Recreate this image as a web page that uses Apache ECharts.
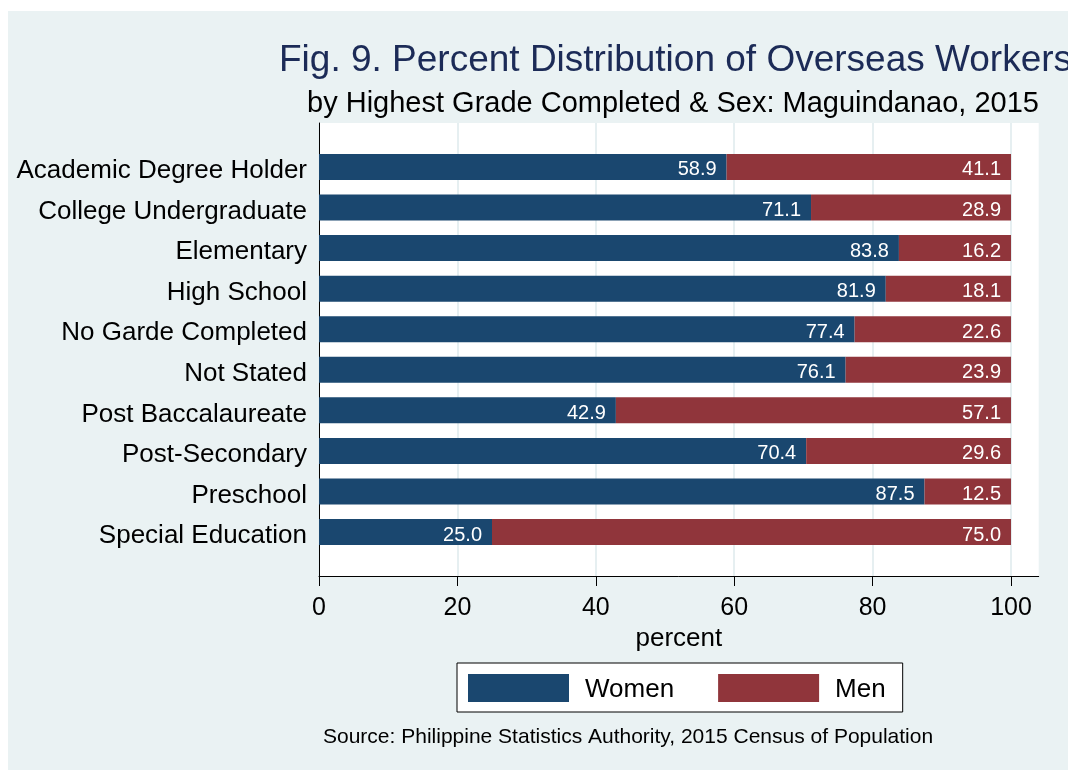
<!DOCTYPE html>
<html>
<head>
<meta charset="utf-8">
<script src="https://cdn.jsdelivr.net/npm/echarts@6/dist/echarts.min.js"></script>
<style>
  html, body { margin: 0; padding: 0; background: #fff; }
  #chart {
    position: absolute;
    left: 8px;
    top: 11px;
    width: 1060px;
    height: 759px;
  }
</style>
</head>
<body>
<div id="chart"></div>
<script>
// data
const categories = [
  'Academic Degree Holder',
  'College Undergraduate',
  'Elementary',
  'High School',
  'No Garde Completed',
  'Not Stated',
  'Post Baccalaureate',
  'Post-Secondary',
  'Preschool',
  'Special Education'
]
const women = [58.9, 71.1, 83.8, 81.9, 77.4, 76.1, 42.9, 70.4, 87.5, 25.0]
const men = [41.1, 28.9, 16.2, 18.1, 22.6, 23.9, 57.1, 29.6, 12.5, 75.0]
const xTicks = [0, 20, 40, 60, 80, 100]

const FONT = '"Liberation Sans", Arial, Helvetica, sans-serif'
const BLUE = '#1a476f'
const RED = '#90353b'

const chart = echarts.init(document.getElementById('chart'))

const barLabel = {
  show: true,
  position: 'insideRight',
  distance: 10,
  offset: [0, 3],
  color: '#fff',
  fontSize: 20,
  fontFamily: FONT,
  formatter: (p) => Number(p.value).toFixed(1)
}

chart.setOption({
  backgroundColor: '#eaf2f3',
  animation: false,
  textStyle: { fontFamily: FONT },
  title: [
    {
      text: 'Fig. 9. Percent Distribution of Overseas Workers',
      left: 271,
      top: 31,
      padding: 0,
      textStyle: { fontSize: 37, lineHeight: 37, fontWeight: 'normal', color: '#1c2b57', fontFamily: FONT }
    },
    {
      text: 'by Highest Grade Completed & Sex: Maguindanao, 2015',
      left: 299,
      top: 78,
      padding: 0,
      textStyle: { fontSize: 29, lineHeight: 29, fontWeight: 'normal', color: '#000', fontFamily: FONT }
    },
    {
      text: 'Source: Philippine Statistics Authority, 2015 Census of Population',
      left: 315,
      top: 716,
      padding: 0,
      textStyle: { fontSize: 21, lineHeight: 21, fontWeight: 'normal', color: '#000', fontFamily: FONT }
    }
  ],
  legend: {
    data: ['Women', 'Men'],
    left: 449,
    top: 652,
    orient: 'horizontal',
    icon: 'rect',
    itemWidth: 101,
    itemHeight: 28,
    itemGap: 44,
    padding: [10, 17, 9, 11],
    borderColor: '#000',
    borderWidth: 1,
    backgroundColor: '#fff',
    formatter: '{t|{name}}',
    textStyle: {
      fontSize: 26,
      color: '#000',
      fontFamily: FONT,
      rich: {
        t: { fontSize: 26, color: '#000', fontFamily: FONT, lineHeight: 26, padding: [4, 0, 0, 11] }
      }
    }
  },
  grid: [
    // bars
    { left: 311, top: 135.7, right: 29.3, bottom: 217.7, containLabel: false },
    // plot region with visible axes
    { left: 311, top: 112, right: 29.3, bottom: 194, show: true, backgroundColor: '#fff', borderWidth: 0, containLabel: false }
  ],
  xAxis: [
    {
      gridIndex: 0,
      type: 'value',
      min: 0,
      max: 104,
      show: false
    },
    {
      gridIndex: 1,
      type: 'value',
      min: 0,
      max: 104,
      interval: 20,
      name: 'percent',
      nameLocation: 'middle',
      nameGap: 43,
      nameTextStyle: { fontSize: 26, color: '#000', fontFamily: FONT },
      axisLine: { show: true, lineStyle: { color: '#000', width: 1 } },
      axisTick: { show: true, length: 10, customValues: xTicks, lineStyle: { color: '#000' } },
      axisLabel: { show: true, customValues: xTicks, margin: 20, fontSize: 25, color: '#000', fontFamily: FONT },
      splitLine: { show: true, lineStyle: { color: '#e6eff1', width: 2 } }
    }
  ],
  yAxis: [
    {
      gridIndex: 0,
      type: 'category',
      data: categories,
      inverse: true,
      axisLine: { show: false },
      axisTick: { show: false },
      axisLabel: { margin: 12, fontSize: 26, color: '#000', fontFamily: FONT, verticalAlign: 'top', lineHeight: 8 },
      splitLine: { show: false }
    },
    {
      gridIndex: 1,
      type: 'value',
      min: 0,
      max: 1,
      axisLine: { show: true, lineStyle: { color: '#000', width: 1 } },
      axisTick: { show: false },
      axisLabel: { show: false },
      splitLine: { show: false }
    }
  ],
  series: [
    {
      name: 'Women',
      type: 'bar',
      stack: 'total',
      xAxisIndex: 0,
      yAxisIndex: 0,
      barWidth: 26,
      data: women,
      itemStyle: { color: BLUE },
      label: barLabel
    },
    {
      name: 'Men',
      type: 'bar',
      stack: 'total',
      xAxisIndex: 0,
      yAxisIndex: 0,
      barWidth: 26,
      data: men,
      itemStyle: { color: RED },
      label: barLabel
    }
  ]
})
</script>
</body>
</html>
